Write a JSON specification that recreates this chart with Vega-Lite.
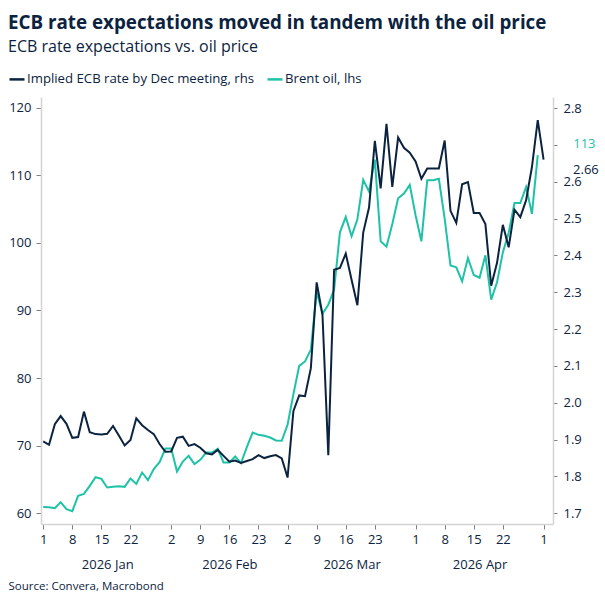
{
  "$schema": "https://vega.github.io/schema/vega-lite/v6.json",
  "width": 512,
  "height": 427,
  "autosize": {"type": "none"},
  "padding": {"left": 41, "top": 97, "right": 52, "bottom": 82},
  "background": "white",
  "title": {
    "text": "ECB rate expectations moved in tandem with the oil price",
    "subtitle": "ECB rate expectations vs. oil price",
    "anchor": "start",
    "frame": "group",
    "dx": -33,
    "offset": 15,
    "font": "Open Sans",
    "fontSize": 18.8,
    "fontWeight": "bold",
    "color": "#0c2340",
    "subtitleFont": "Open Sans",
    "subtitleFontSize": 16,
    "subtitleColor": "#0c2340",
    "subtitlePadding": 6
  },
  "data": {
    "values": [
      {"date": "2026-01-01", "ecb": 1.895, "brent": 60.93},
      {"date": "2026-01-02", "ecb": 1.886, "brent": 60.89},
      {"date": "2026-01-05", "ecb": 1.942, "brent": 60.74},
      {"date": "2026-01-06", "ecb": 1.964, "brent": 61.63},
      {"date": "2026-01-07", "ecb": 1.943, "brent": 60.59},
      {"date": "2026-01-08", "ecb": 1.905, "brent": 60.30},
      {"date": "2026-01-09", "ecb": 1.907, "brent": 62.56},
      {"date": "2026-01-12", "ecb": 1.976, "brent": 62.86},
      {"date": "2026-01-13", "ecb": 1.920, "brent": 64.04},
      {"date": "2026-01-14", "ecb": 1.915, "brent": 65.33},
      {"date": "2026-01-15", "ecb": 1.914, "brent": 65.08},
      {"date": "2026-01-16", "ecb": 1.916, "brent": 63.80},
      {"date": "2026-01-19", "ecb": 1.937, "brent": 63.90},
      {"date": "2026-01-20", "ecb": 1.911, "brent": 64.00},
      {"date": "2026-01-21", "ecb": 1.884, "brent": 63.90},
      {"date": "2026-01-22", "ecb": 1.899, "brent": 65.13},
      {"date": "2026-01-23", "ecb": 1.958, "brent": 64.34},
      {"date": "2026-01-26", "ecb": 1.939, "brent": 66.02},
      {"date": "2026-01-27", "ecb": 1.926, "brent": 64.89},
      {"date": "2026-01-28", "ecb": 1.915, "brent": 66.52},
      {"date": "2026-01-29", "ecb": 1.888, "brent": 67.56},
      {"date": "2026-01-30", "ecb": 1.867, "brent": 69.57},
      {"date": "2026-02-02", "ecb": 1.868, "brent": 69.57},
      {"date": "2026-02-03", "ecb": 1.905, "brent": 66.16},
      {"date": "2026-02-04", "ecb": 1.908, "brent": 67.64},
      {"date": "2026-02-05", "ecb": 1.883, "brent": 68.49},
      {"date": "2026-02-06", "ecb": 1.888, "brent": 67.26},
      {"date": "2026-02-09", "ecb": 1.878, "brent": 67.90},
      {"date": "2026-02-10", "ecb": 1.863, "brent": 68.98},
      {"date": "2026-02-11", "ecb": 1.860, "brent": 68.98},
      {"date": "2026-02-12", "ecb": 1.872, "brent": 69.53},
      {"date": "2026-02-13", "ecb": 1.856, "brent": 67.50},
      {"date": "2026-02-16", "ecb": 1.840, "brent": 67.50},
      {"date": "2026-02-17", "ecb": 1.843, "brent": 68.39},
      {"date": "2026-02-18", "ecb": 1.837, "brent": 67.41},
      {"date": "2026-02-19", "ecb": 1.842, "brent": 69.78},
      {"date": "2026-02-20", "ecb": 1.847, "brent": 71.94},
      {"date": "2026-02-23", "ecb": 1.858, "brent": 71.60},
      {"date": "2026-02-24", "ecb": 1.850, "brent": 71.45},
      {"date": "2026-02-25", "ecb": 1.855, "brent": 71.20},
      {"date": "2026-02-26", "ecb": 1.858, "brent": 70.76},
      {"date": "2026-02-27", "ecb": 1.849, "brent": 70.71},
      {"date": "2026-03-02", "ecb": 1.797, "brent": 73.10},
      {"date": "2026-03-03", "ecb": 1.977, "brent": 77.60},
      {"date": "2026-03-04", "ecb": 2.020, "brent": 81.80},
      {"date": "2026-03-05", "ecb": 2.018, "brent": 82.46},
      {"date": "2026-03-06", "ecb": 2.094, "brent": 84.19},
      {"date": "2026-03-09", "ecb": 2.327, "brent": 92.83},
      {"date": "2026-03-10", "ecb": 2.239, "brent": 89.50},
      {"date": "2026-03-11", "ecb": 1.858, "brent": 90.86},
      {"date": "2026-03-12", "ecb": 2.361, "brent": 93.10},
      {"date": "2026-03-13", "ecb": 2.366, "brent": 101.57},
      {"date": "2026-03-16", "ecb": 2.405, "brent": 103.85},
      {"date": "2026-03-17", "ecb": 2.334, "brent": 100.98},
      {"date": "2026-03-18", "ecb": 2.265, "brent": 103.50},
      {"date": "2026-03-19", "ecb": 2.462, "brent": 109.35},
      {"date": "2026-03-20", "ecb": 2.530, "brent": 107.60},
      {"date": "2026-03-23", "ecb": 2.711, "brent": 112.34},
      {"date": "2026-03-24", "ecb": 2.582, "brent": 100.24},
      {"date": "2026-03-25", "ecb": 2.757, "brent": 99.45},
      {"date": "2026-03-26", "ecb": 2.586, "brent": 102.80},
      {"date": "2026-03-27", "ecb": 2.720, "brent": 106.60},
      {"date": "2026-03-30", "ecb": 2.692, "brent": 107.30},
      {"date": "2026-03-31", "ecb": 2.679, "brent": 108.60},
      {"date": "2026-04-01", "ecb": 2.655, "brent": 104.10},
      {"date": "2026-04-02", "ecb": 2.608, "brent": 100.24},
      {"date": "2026-04-03", "ecb": 2.636, "brent": 109.27},
      {"date": "2026-04-06", "ecb": 2.636, "brent": 109.27},
      {"date": "2026-04-07", "ecb": 2.636, "brent": 109.50},
      {"date": "2026-04-08", "ecb": 2.712, "brent": 103.60},
      {"date": "2026-04-09", "ecb": 2.521, "brent": 96.66},
      {"date": "2026-04-10", "ecb": 2.488, "brent": 96.39},
      {"date": "2026-04-13", "ecb": 2.593, "brent": 94.31},
      {"date": "2026-04-14", "ecb": 2.599, "brent": 97.78},
      {"date": "2026-04-15", "ecb": 2.515, "brent": 95.25},
      {"date": "2026-04-16", "ecb": 2.515, "brent": 94.85},
      {"date": "2026-04-17", "ecb": 2.485, "brent": 98.16},
      {"date": "2026-04-20", "ecb": 2.318, "brent": 91.60},
      {"date": "2026-04-21", "ecb": 2.380, "brent": 94.18},
      {"date": "2026-04-22", "ecb": 2.483, "brent": 98.60},
      {"date": "2026-04-23", "ecb": 2.422, "brent": 101.50},
      {"date": "2026-04-24", "ecb": 2.524, "brent": 105.90},
      {"date": "2026-04-27", "ecb": 2.504, "brent": 105.90},
      {"date": "2026-04-28", "ecb": 2.550, "brent": 108.30},
      {"date": "2026-04-29", "ecb": 2.640, "brent": 104.30},
      {"date": "2026-04-30", "ecb": 2.767, "brent": 113},
      {"date": "2026-05-01", "ecb": 2.66, "brent": null}
    ]
  },
  "encoding": {
    "x": {
      "field": "date",
      "type": "ordinal",
      "scale": {"type": "point", "padding": 1.5, "align": 0.19},
      "axis": {
        "title": "Source: Convera, Macrobond",
        "titleX": -33,
        "titleY": 62,
        "titleAlign": "left",
        "titleBaseline": "middle",
        "titleFontSize": 11.5,
        "titleFontWeight": "normal",
        "titleColor": "#0c2340",
        "values": [
          "2026-01-01", "2026-01-08", "2026-01-15", "2026-01-16", "2026-01-22",
          "2026-02-02", "2026-02-09", "2026-02-16", "2026-02-23",
          "2026-03-02", "2026-03-09", "2026-03-16", "2026-03-17", "2026-03-23",
          "2026-04-01", "2026-04-08", "2026-04-15", "2026-04-16", "2026-04-22",
          "2026-05-01"
        ],
        "labelExpr": "datum.value == '2026-01-16' ? ['', '2026 Jan'] : datum.value == '2026-02-16' ? ['16', '2026 Feb'] : datum.value == '2026-03-17' ? ['', '2026 Mar'] : datum.value == '2026-04-16' ? ['', '2026 Apr'] : '' + toNumber(substring(datum.value, 8, 10))",
        "labelAngle": 0,
        "labelOverlap": false,
        "labelBound": false,
        "labelFlush": false,
        "labelLineHeight": 25,
        "labelPadding": 4,
        "tickSize": 5,
        "tickOpacity": {
          "condition": {"test": "indexof(['2026-01-16', '2026-03-17', '2026-04-16'], datum.value) >= 0", "value": 0},
          "value": 1
        }
      }
    }
  },
  "layer": [
    {
      "encoding": {
        "y": {
          "field": "brent",
          "type": "quantitative",
          "scale": {"domain": [58.4, 121.6], "nice": false, "zero": false},
          "axis": {
            "orient": "left",
            "title": null,
            "values": [60, 70, 80, 90, 100, 110, 120],
            "tickSize": 5,
            "labelPadding": 5
          }
        }
      },
      "layer": [
        {
          "mark": {"type": "line", "strokeWidth": 2},
          "encoding": {
            "color": {
              "datum": "Brent oil, lhs",
              "type": "nominal",
              "scale": {
                "domain": ["Implied ECB rate by Dec meeting, rhs", "Brent oil, lhs"],
                "range": ["#0c2340", "#1fc2a7"]
              },
              "legend": {
                "orient": "none",
                "legendX": -33,
                "legendY": -27,
                "direction": "horizontal",
                "title": null,
                "symbolType": "stroke",
                "symbolSize": 225,
                "symbolStrokeWidth": 2.5,
                "labelFontSize": 13.2,
                "labelColor": "#0c2340",
                "labelLimit": 0,
                "labelOffset": 1,
                "columnPadding": 7,
                "padding": 0
              }
            }
          }
        },
        {
          "transform": [{"filter": "datum.date == '2026-04-30'"}],
          "mark": {"type": "text", "align": "left", "baseline": "middle", "dx": 35.5, "dy": -11.3, "fontSize": 13, "color": "#1fc2a7"},
          "encoding": {"text": {"field": "brent", "type": "quantitative", "format": ".0f"}}
        }
      ]
    },
    {
      "encoding": {
        "y": {
          "field": "ecb",
          "type": "quantitative",
          "scale": {"domain": [1.671, 2.83], "nice": false, "zero": false},
          "axis": {
            "orient": "right",
            "title": null,
            "values": [1.7, 1.8, 1.9, 2.0, 2.1, 2.2, 2.3, 2.4, 2.5, 2.6, 2.7, 2.8],
            "labelExpr": "abs(datum.value - 2.7) < 0.001 ? '' : format(datum.value, '.1f')",
            "tickSize": 4,
            "labelPadding": 6
          }
        }
      },
      "layer": [
        {
          "mark": {"type": "line", "strokeWidth": 2},
          "encoding": {
            "color": {"datum": "Implied ECB rate by Dec meeting, rhs", "type": "nominal"}
          }
        },
        {
          "transform": [{"filter": "datum.date == '2026-05-01'"}],
          "mark": {"type": "text", "align": "left", "baseline": "middle", "dx": 29.5, "dy": 10.3, "fontSize": 13, "color": "#0c2340"},
          "encoding": {"text": {"field": "ecb", "type": "quantitative", "format": ".2f"}}
        }
      ]
    }
  ],
  "resolve": {"scale": {"y": "independent"}},
  "config": {
    "font": "Open Sans",
    "view": {"stroke": null},
    "axis": {
      "grid": false,
      "domainColor": "#d4d4d4",
      "domainWidth": 1.5,
      "tickColor": "#808080",
      "tickWidth": 1,
      "labelColor": "#0c2340",
      "labelFont": "Open Sans",
      "labelFontSize": 13
    },
    "legend": {"labelFont": "Open Sans"}
  }
}
